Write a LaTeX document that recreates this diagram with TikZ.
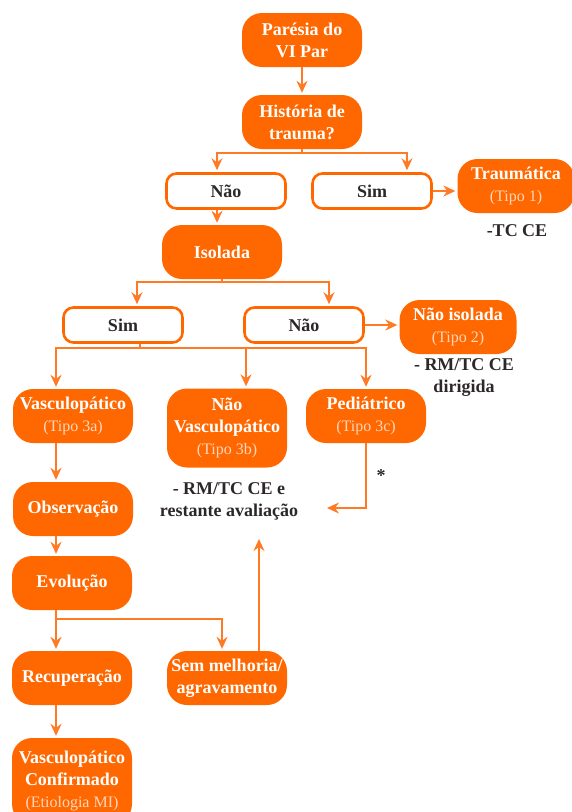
\documentclass[tikz,border=0pt]{standalone}
\usepackage{fontspec}
\setmainfont{Liberation Serif}
\usepackage{tikz}
\usetikzlibrary{positioning, arrows.meta, calc}
\definecolor{laranja}{RGB}{255,104,0}
\definecolor{linha}{RGB}{255,122,36}
\definecolor{texto}{RGB}{45,40,40}
\definecolor{tipocol}{RGB}{255,214,188}
\newcommand{\fbig}{\fontsize{18}{22}\selectfont\bfseries}
\newcommand{\tipo}[1]{{\fontsize{16}{22}\selectfont\mdseries\color{tipocol}#1}}
\tikzset{
  obox/.style ={fill=laranja, text=white, rounded corners=20pt, align=center,
                minimum width=120pt, minimum height=54pt, inner sep=1pt, font=\fbig},
  wbox/.style ={draw=laranja, line width=2.6pt, fill=white, text=texto, rounded corners=10pt,
                align=center, minimum width=119pt, minimum height=35pt, inner sep=2pt, font=\fbig},
  note/.style ={text=texto, align=center, inner sep=1pt, font=\fbig},
  lin/.style  ={draw=linha, line width=1.5pt},
  arr/.style  ={lin, -{Stealth[length=12pt, width=11pt, inset=4pt]}, shorten >=2pt},
}
\begin{document}
\begin{tikzpicture}[x=1pt, y=-1pt]
  \useasboundingbox (0,0) rectangle (572,812);
  \node[obox] (paresia) at (302,40) {Parésia do\\VI Par};
  \node[obox] (historia) at (302,122) {História de\\trauma?};
  \node[wbox] (nao1) at (226,191) {Não};
  \node[wbox] (sim1) at (372,191) {Sim};
  \node[obox, minimum width=117pt] (traum) at (516,186) {Traumática\\\tipo{(Tipo 1)}};
  \node[note] (tcce) at (517,231) {-TC CE};
  \node[obox] (isolada) at (222,252) {Isolada};
  \node[wbox] (sim2) at (123,325) {Sim};
  \node[wbox] (nao2) at (304,325) {Não};
  \node[obox, minimum width=117pt] (naoiso) at (458,327) {Não isolada\\\tipo{(Tipo 2)}};
  \node[note] (rmdir) at (464,378) {- RM/TC CE\\dirigida};
  \node[obox] (vasc) at (73,416) {Vasculopático\\\tipo{(Tipo 3a)}};
  \node[obox, minimum height=79pt] (naovasc) at (227,428) {Não\\Vasculopático\\\tipo{(Tipo 3b)}};
  \node[obox] (pedi) at (366,416) {Pediátrico\\\tipo{(Tipo 3c)}};
  \node[note] (ast) at (381,476) {*};
  \node[note] (rmrest) at (229,501) {- RM/TC CE e\\restante avaliação};
  \node[obox] (observ) at (73,509) {Observação};
  \node[obox] (evol) at (72,583) {Evolução};
  \node[obox] (recup) at (72,678) {Recuperação};
  \node[obox] (semmel) at (227,678) {Sem melhoria/\\agravamento};
  \node[obox, minimum height=86pt] (vconf) at (72,781) {Vasculopático\\Confirmado\\\tipo{(Etiologia MI)}};

  \coordinate (colA) at (56,0);
  \coordinate (colB) at (217,0);
  \coordinate (colC) at (407,0);
  \coordinate (colD) at (137,0);
  \coordinate (colE) at (329,0);
  \coordinate (colF) at (140,0);
  \coordinate (colG) at (246,0);
  \coordinate (colH) at (222,0);
  \coordinate (colI) at (259,0);
  \coordinate (j1) at ($(historia.south)+(0,4)$);
  \coordinate (j2) at ($(isolada.south)+(0,3)$);
  \coordinate (j3) at ($(sim2.south -| colF)+(0,4)$);
  \coordinate (j4) at ($(evol.south -| colA)+(0,9)$);
  \coordinate (pedend) at (325,508);
  \coordinate (semend) at (259,537);

  \draw[arr] (paresia) -- (historia);
  \draw[lin] (historia.south) -- (j1);
  \draw[arr] (j1) -| (nao1.north -| colB);
  \draw[arr] (j1) -| (sim1.north -| colC);
  \draw[arr] (sim1.east) -- (sim1.east -| traum.west);
  \draw[arr] (nao1.south -| colB) -- (isolada.north -| colB);
  \draw[lin] (isolada.south) -- (j2);
  \draw[arr] (j2) -| (sim2.north -| colD);
  \draw[arr] (j2) -| (nao2.north -| colE);
  \draw[arr] (nao2.east) -- (nao2.east -| naoiso.west);
  \draw[lin] (sim2.south -| colF) -- (j3);
  \draw[arr] (j3) -| (vasc.north -| colA);
  \draw[arr] (j3) -| (naovasc.north -| colG);
  \draw[arr] (j3) -| (pedi.north);
  \draw[arr] (pedi.south) |- (pedend);
  \draw[arr] (vasc.south -| colA) -- (observ.north -| colA);
  \draw[arr] (observ.south -| colA) -- (evol.north -| colA);
  \draw[lin] (evol.south -| colA) -- (j4);
  \draw[arr] (j4) -- (recup.north -| colA);
  \draw[arr] (j4) -| (semmel.north -| colH);
  \draw[arr] (recup.south -| colA) -- (vconf.north -| colA);
  \draw[arr] (semmel.north -| colI) -- (semend);
\end{tikzpicture}
\end{document}
